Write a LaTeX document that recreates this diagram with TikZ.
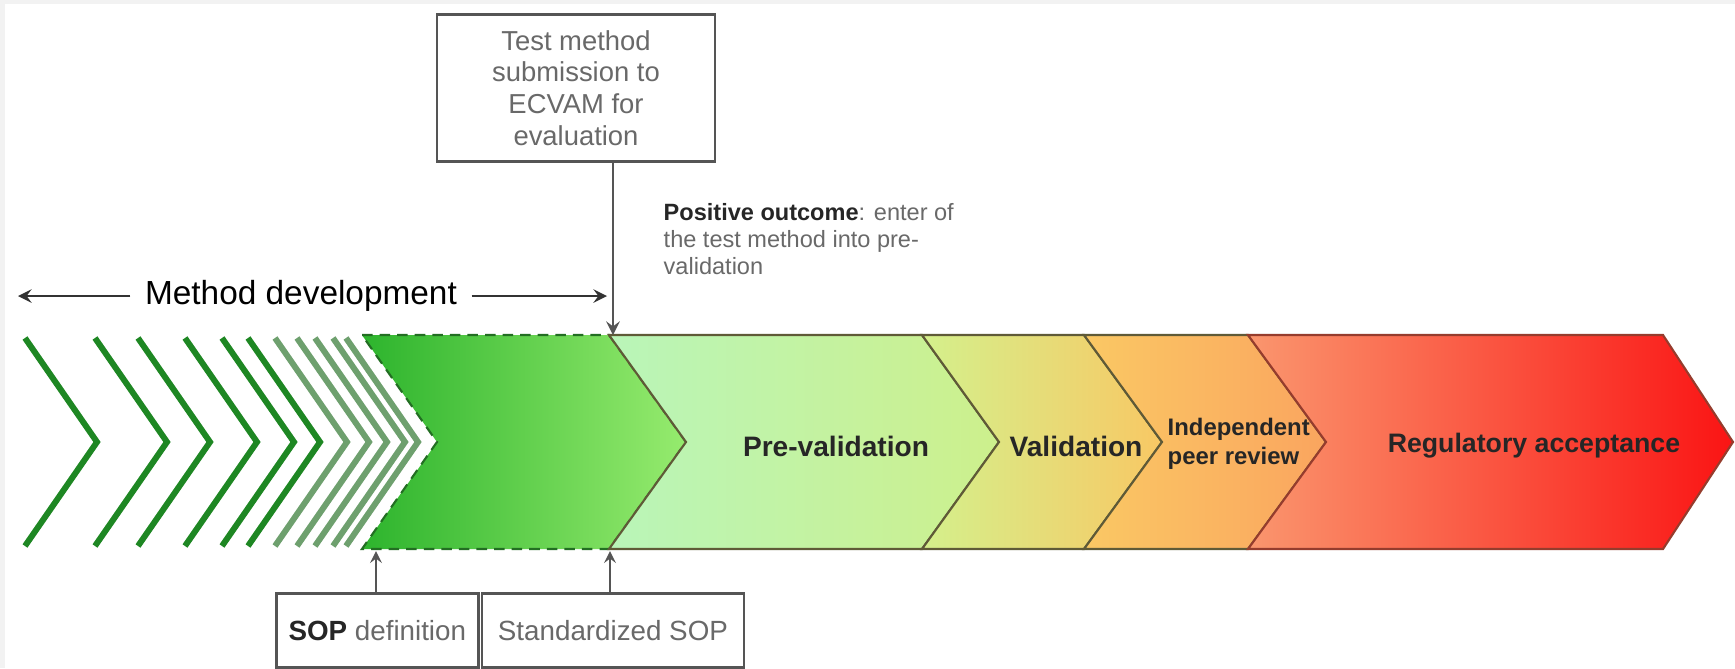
\documentclass[tikz,border=0pt]{standalone}
\usepackage{fontspec}
\setmainfont{Liberation Sans}
\usetikzlibrary{positioning, arrows}
\definecolor{chevdark}{RGB}{30,135,35}
\definecolor{chevpale}{RGB}{110,160,110}
\definecolor{edgeolive}{RGB}{95,90,55}
\definecolor{boxgray}{RGB}{85,85,85}
\definecolor{textgray}{RGB}{105,105,105}
\tikzset{
    >=stealth, % small filled arrow heads
    chev/.style={line width=1.7pt}, % open chevrons of the method development
    phase/.style={draw=edgeolive, line width=0.6pt}, % the coloured phases of the band
    stage/.style={font=\fontsize{8}{9}\selectfont\bfseries, text=black!85},
    infobox/.style={draw=boxgray, line width=0.75pt, text=textgray, align=center, inner sep=0pt},
    pointer/.style={->, draw=boxgray, line width=0.7pt},
}

\begin{document}
\begin{tikzpicture}[x=0.1mm, y=-0.1mm]
\useasboundingbox (0,0) rectangle (1735,668);
\fill[gray!10] (0,0) rectangle (1735,668);
\fill[white] (5,4) rectangle (1735,668);

% method development chevrons
\foreach \x in {25,95,138,185,222,248}
    \draw[chev, chevdark] (\x,338) -- ++(72,104) -- ++(-72,104);
\foreach \x in {275,297,315,333,346}
    \draw[chev, chevpale] (\x,338) -- ++(72,104) -- ++(-72,104);

% phases of the band
\path[phase, draw={rgb,255:red,35;green,110;blue,35}, densely dashed, left color={rgb,255:red,45;green,180;blue,45}, right color={rgb,255:red,150;green,235;blue,110}]
    (362,335) -- (609,335) -- (686,442) -- (609,549) -- (362,549) -- (437,442) -- cycle;
\path[phase, left color={rgb,255:red,185;green,245;blue,185}, right color={rgb,255:red,205;green,240;blue,140}]
    (609,335) -- (922,335) -- (999,442) -- (922,549) -- (609,549) -- (686,442) -- cycle;
\path[phase, left color={rgb,255:red,212;green,240;blue,140}, right color={rgb,255:red,248;green,200;blue,100}]
    (922,335) -- (1084,335) -- (1162,442) -- (1084,549) -- (922,549) -- (999,442) -- cycle;
\path[phase, left color={rgb,255:red,250;green,200;blue,100}, right color={rgb,255:red,250;green,165;blue,95}]
    (1084,335) -- (1248,335) -- (1326,442) -- (1248,549) -- (1084,549) -- (1162,442) -- cycle;
\path[phase, draw={rgb,255:red,150;green,60;blue,45}, left color={rgb,255:red,250;green,150;blue,110}, right color={rgb,255:red,250;green,20;blue,20}]
    (1248,335) -- (1663,335) -- (1733,442) -- (1663,549) -- (1248,549) -- (1326,442) -- cycle;

% phase names
\node[stage] (prevalid) at (836,446) {Pre-validation};
\node[stage] (valid) at (1076,446) {Validation};
\node[stage, font=\fontsize{6.8}{8.4}\selectfont\bfseries, align=left, anchor=west, inner sep=0pt] (review) at (1167,444) {Independent\\peer review};
\node[stage, font=\fontsize{7.6}{9}\selectfont\bfseries] (accept) at (1534,446) {Regulatory acceptance};

% submission box
\node[infobox, minimum width=27.8mm, minimum height=14.7mm, font=\fontsize{7.8}{9}\selectfont] (submit) at (576,88) {Test method\\submission to\\ECVAM for\\evaluation};
\coordinate (entry) at (613,335);
\draw[pointer] (submit.south -| entry) -- (entry);
\node[anchor=north west, align=left, text=textgray, font=\fontsize{6.7}{7.6}\selectfont, inner sep=0pt] (outcome) at (663,203) {\textcolor{black!85}{\textbf{Positive outcome}}: enter of\\the test method into pre-\\validation};

% method development span
\node[font=\fontsize{9.5}{11}\selectfont, inner sep=4pt] (methdev) at (301,296) {Method development};
\coordinate (mdleft) at (18,296);
\coordinate (mdright) at (607,296);
\draw[->, line width=0.7pt, black!80] (methdev) -- (mdleft);
\draw[->, line width=0.7pt, black!80] (methdev) -- (mdright);

% SOP boxes
\node[infobox, anchor=north west, minimum width=20.2mm, minimum height=7.4mm, font=\fontsize{7.9}{9}\selectfont] (sopdef) at (275,592) {\textcolor{black!85}{\textbf{SOP}} definition};
\node[infobox, right=0.1mm of sopdef, minimum width=26.2mm, minimum height=7.4mm, font=\fontsize{7.9}{9}\selectfont] (stdsop) {Standardized SOP};
\coordinate (sopmark) at (376,551);
\coordinate (stdmark) at (610,551);
\draw[pointer, line width=0.5pt] (sopdef.north -| sopmark) -- (sopmark);
\draw[pointer, line width=0.5pt] (stdsop.north -| stdmark) -- (stdmark);
\end{tikzpicture}
\end{document}
